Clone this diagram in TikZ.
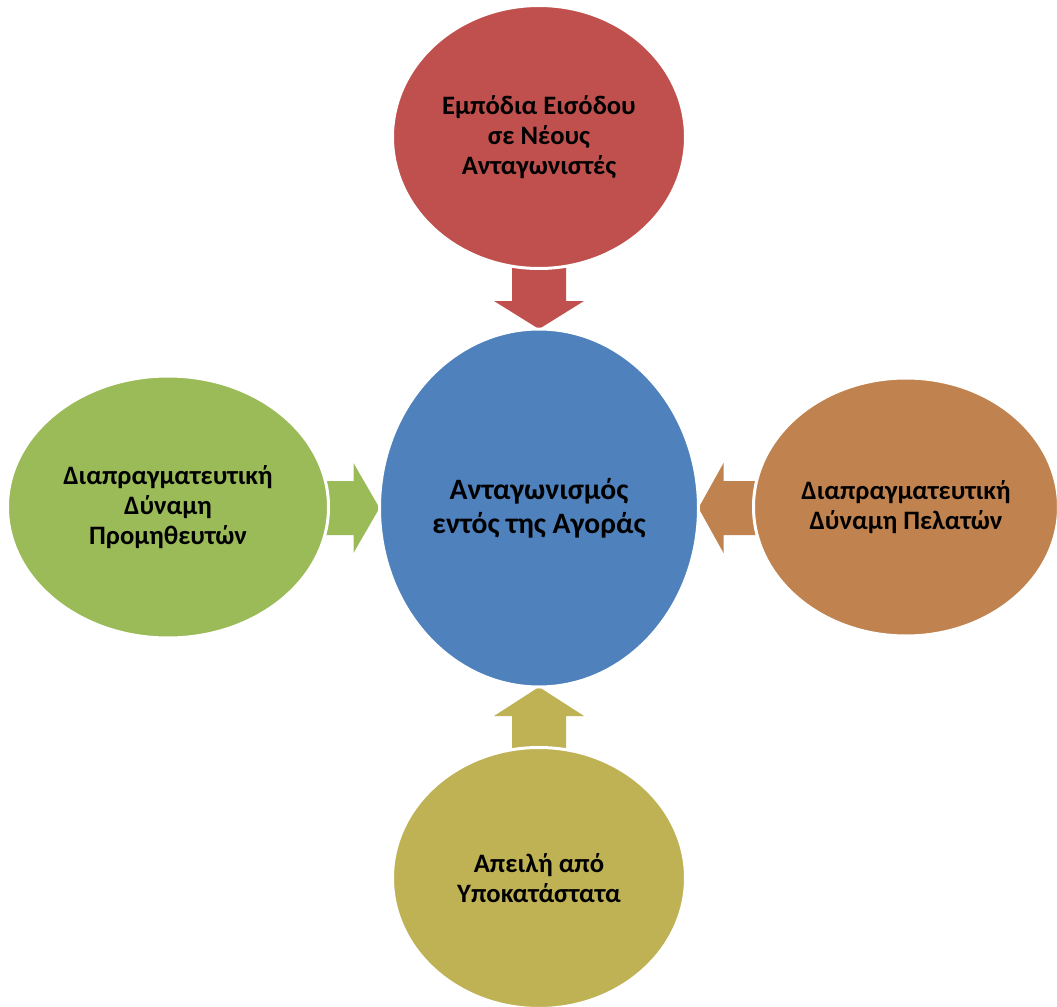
\documentclass[tikz,border=0pt]{standalone}
\usepackage{fontspec}
\setmainfont{Carlito}
\usepackage{xcolor}
\usetikzlibrary{shapes,backgrounds}

\definecolor{entryRed}{HTML}{C0504D}
\definecolor{rivalryBlue}{HTML}{4F81BD}
\definecolor{supplierGreen}{HTML}{9BBB59}
\definecolor{buyerOrange}{HTML}{C0834F}
\definecolor{substituteOlive}{HTML}{BFB255}

\begin{document}
\begin{tikzpicture}[x = 0.5pt, y = -0.5pt]
\tikzstyle{force} = [ellipse, draw = white, line width = 1.5pt, inner sep = 0pt, outer sep = 0pt, align = center, font = \fontsize{13.3pt}{15.2pt}\selectfont\bfseries]
\tikzstyle{big force} = [force, font = \fontsize{14.8pt}{17pt}\selectfont\bfseries]
\useasboundingbox (0,0) rectangle (1057,1007);

\node[big force, fill = rivalryBlue, minimum width = 159.5pt, minimum height = 179pt] (rivalry) at (539,508) {Ανταγωνισμός\\εντός της Αγοράς};
\node[force, fill = entryRed, minimum width = 146.5pt, minimum height = 131.5pt] (entrants) at (539,137) {Εμπόδια Εισόδου\\σε Νέους\\Ανταγωνιστές};
\node[force, fill = supplierGreen, minimum width = 160.5pt, minimum height = 131pt] (suppliers) at (168,507) {Διαπραγματευτική\\Δύναμη\\Προμηθευτών};
\node[force, fill = buyerOrange, minimum width = 152.5pt, minimum height = 129pt] (buyers) at (906,507) {Διαπραγματευτική\\Δύναμη Πελατών};
\node[force, fill = substituteOlive, minimum width = 146.5pt, minimum height = 130.5pt] (substitutes) at (539,878) {Απειλή από\\Υποκατάστατα};

% block arrows, tip on the centre ellipse, tail hidden under the source
\begin{pgfonlayer}{background}
\fill[entryRed, shift = {(rivalry.north)}, rotate = -90]
	(0,0) -- (-28,45) -- (-28,27) -- (-90,27) -- (-90,-27) -- (-28,-27) -- (-28,-45) -- cycle;
\fill[supplierGreen, shift = {(rivalry.west)}, rotate = 0]
	(0,0) -- (-26,45) -- (-26,27) -- (-90,27) -- (-90,-27) -- (-26,-27) -- (-26,-45) -- cycle;
\fill[buyerOrange, shift = {(rivalry.east)}, rotate = 180]
	(0,0) -- (-25,45) -- (-25,27) -- (-90,27) -- (-90,-27) -- (-25,-27) -- (-25,-45) -- cycle;
\fill[substituteOlive, shift = {(rivalry.south)}, rotate = 90]
	(0,0) -- (-29,45) -- (-29,27) -- (-90,27) -- (-90,-27) -- (-29,-27) -- (-29,-45) -- cycle;
\end{pgfonlayer}
\end{tikzpicture}
\end{document}
